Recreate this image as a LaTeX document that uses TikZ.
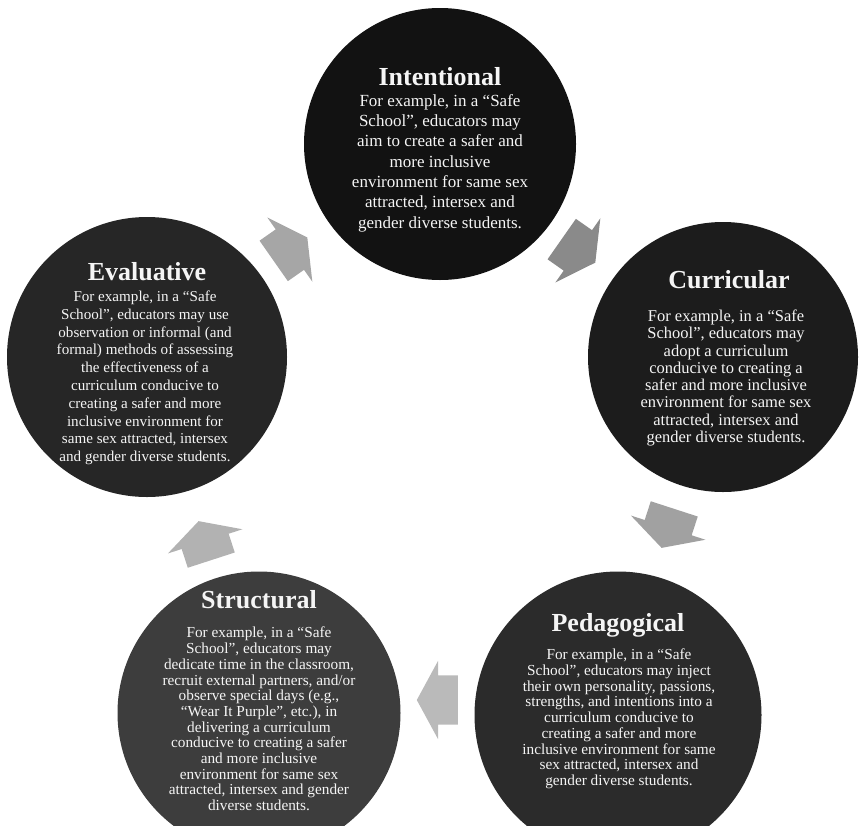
\documentclass[tikz,border=0pt]{standalone}
\usepackage{fontspec}
\setmainfont{Liberation Serif}
\usetikzlibrary{shapes.arrows}

\definecolor{intfill}{gray}{0.07}
\definecolor{curfill}{gray}{0.11}
\definecolor{pedfill}{gray}{0.17}
\definecolor{strfill}{gray}{0.24}
\definecolor{evafill}{gray}{0.15}
\definecolor{arrowA}{gray}{0.65}
\definecolor{arrowB}{gray}{0.54}
\definecolor{arrowC}{gray}{0.63}
\definecolor{arrowD}{gray}{0.73}
\definecolor{arrowE}{gray}{0.70}
\definecolor{paper}{gray}{0.96}

\begin{document}
\begin{tikzpicture}[x=1pt,y=-1pt,
    phase/.style={circle,inner sep=0pt},
    heading/.style={text=paper,inner sep=0pt,font=\fontsize{26}{26}\selectfont\bfseries},
    blurb/.style={text=paper,align=center,inner sep=0pt},
    cyclearrow/.style={single arrow,inner xsep=0pt,inner ysep=24.5pt,minimum height=41pt,
        single arrow head extend=14.5pt,single arrow tip angle=123}]

    \clip (0,0) rectangle (867,825);

    % Place the circles
    \node[phase,fill=intfill,minimum size=272pt] (int) at (440,144) {};
    \node[phase,fill=curfill,minimum size=270pt] (cur) at (723,357) {};
    \node[phase,fill=pedfill,minimum size=287pt] (ped) at (618,715) {};
    \node[phase,fill=strfill,minimum size=283pt] (str) at (259,713) {};
    \node[phase,fill=evafill,minimum size=280pt] (eva) at (147,357) {};

    % Arrows between the circles
    \node[cyclearrow,fill=arrowA,rotate=35]   (eva-int) at (285,253) {};
    \node[cyclearrow,fill=arrowB,rotate=-35]  (int-cur) at (573,247) {};
    \node[cyclearrow,fill=arrowC,rotate=-108] (cur-ped) at (670,522) {};
    \node[cyclearrow,fill=arrowD,rotate=180]  (ped-str) at (444,700) {};
    \node[cyclearrow,fill=arrowE,rotate=108]  (str-eva) at (207,547) {};

    % Headings
    \node[heading] (intH) at (440,77)  {Intentional};
    \node[heading] (curH) at (729,280) {Curricular};
    \node[heading] (pedH) at (618,625) {Pedagogical};
    \node[heading] (strH) at (259,600) {Structural};
    \node[heading] (evaH) at (147,272) {Evaluative};

    % Descriptions
    \node[blurb,font=\fontsize{17}{20.3}\selectfont] (intB) at (440,163) {For example, in a “Safe\\School”, educators may\\aim to create a safer and\\more inclusive\\environment for same sex\\attracted, intersex and\\gender diverse students.};
    \node[blurb,font=\fontsize{16.5}{17.3}\selectfont] (curB) at (726,378) {For example, in a “Safe\\School”, educators may\\adopt a curriculum\\conducive to creating a\\safer and more inclusive\\environment for same sex\\attracted, intersex and\\gender diverse students.};
    \node[blurb,font=\fontsize{15.3}{15.75}\selectfont] (pedB) at (619,719) {For example, in a “Safe\\School”, educators may inject\\their own personality, passions,\\strengths, and intentions into a\\curriculum conducive to\\creating a safer and more\\inclusive environment for same\\sex attracted, intersex and\\gender diverse students.};
    \node[blurb,font=\fontsize{15.3}{15.7}\selectfont] (strB) at (259,719) {For example, in a “Safe\\School”, educators may\\dedicate time in the classroom,\\recruit external partners, and/or\\observe special days (e.g.,\\“Wear It Purple”, etc.), in\\delivering a curriculum\\conducive to creating a safer\\and more inclusive\\environment for same sex\\attracted, intersex and gender\\diverse students.};
    \node[blurb,font=\fontsize{15.1}{17.8}\selectfont] (evaB) at (145,378) {For example, in a “Safe\\School”, educators may use\\observation or informal (and\\formal) methods of assessing\\the effectiveness of a\\curriculum conducive to\\creating a safer and more\\inclusive environment for\\same sex attracted, intersex\\and gender diverse students.};

\end{tikzpicture}
\end{document}
